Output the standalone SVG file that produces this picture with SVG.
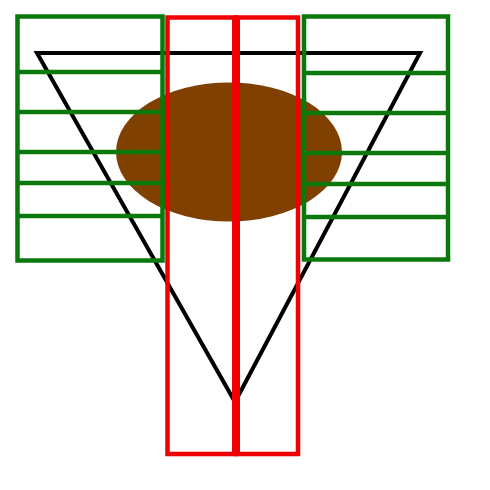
<svg xmlns="http://www.w3.org/2000/svg" width="490" height="490" viewBox="0 0 490 490">
<style>
.g{fill:none;stroke:#0a780a;stroke-width:4.5}
.r{fill:none;stroke:#f00000;stroke-width:4.5}
</style>
<rect width="490" height="490" fill="#fff"/>
<polygon id="triangle" points="37,53 420,53 235,402" fill="none" stroke="#000" stroke-width="4" stroke-linejoin="miter"/>
<ellipse id="ellipse" cx="229" cy="152" rx="113" ry="69.5" fill="#7f4000"/>
<g id="green-left">
<rect class="g" x="17.5" y="16.5" width="145" height="244"/>
<path class="g" d="M17.5 72H162.5M17.5 112H162.5M17.5 152H162.5M17.5 183H162.5M17.5 216H162.5"/>
</g>
<g id="green-right">
<rect class="g" x="304" y="16.5" width="144" height="243"/>
<path class="g" d="M304 73H448M304 113H448M304 153H448M304 184H448M304 217H448"/>
</g>
<g id="red">
<rect class="r" x="167.5" y="17.5" width="68.5" height="436.5"/>
<rect class="r" x="236" y="17.5" width="62" height="436.5"/>
<line x1="236" y1="17.5" x2="236" y2="454" stroke="#f00000" stroke-width="8"/>
</g>
</svg>
